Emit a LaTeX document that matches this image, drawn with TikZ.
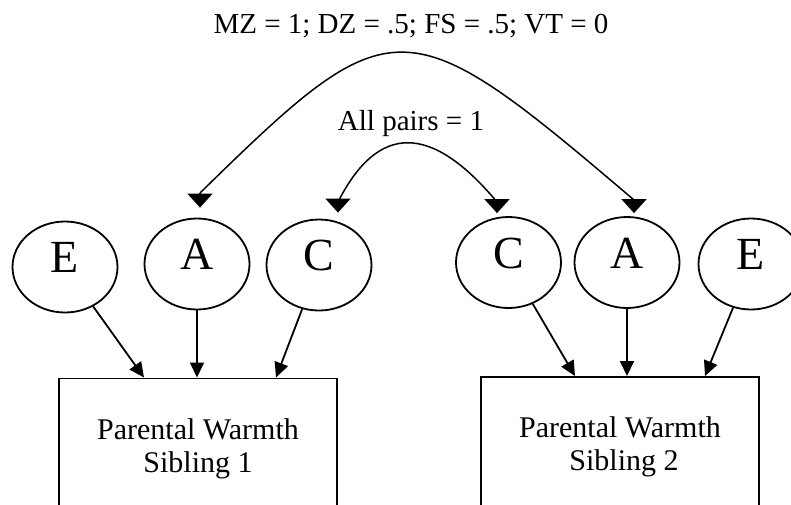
\documentclass[tikz,border=0pt]{standalone}
\usepackage{fontspec}
\setmainfont{Liberation Serif}
\usetikzlibrary{arrows.meta,shapes.geometric}
\begin{document}
\begin{tikzpicture}[x=1pt,y=-1pt,
  lat/.style={ellipse,draw,line width=1.8pt,minimum width=105pt,minimum height=91pt,inner sep=0pt,
    font=\fontsize{46}{52}\selectfont,text depth=19pt},
  obs/.style={rectangle,draw,line width=1.8pt,minimum width=278pt,minimum height=140pt,anchor=north,
    align=center,font=\fontsize{30}{33}\selectfont},
  lbl/.style={anchor=base,inner sep=0pt,font=\fontsize{29}{33}\selectfont},
  causal/.style={line width=1.8pt,-{Triangle[width=14pt,length=15pt]}},
  covline/.style={line width=1.5pt},
  covhead/.style={line width=1.5pt,-{Triangle[width=25pt,length=14pt]}}
]
\useasboundingbox (0,0) rectangle (791,504);
\clip (0,0) rectangle (791,504);

% latent factors
\node[lat] (E1) at (65,267) {E};
\node[lat] (A1) at (197,264) {A};
\node[lat] (C1) at (319,265) {C};
\node[lat] (C2) at (508.5,262.5) {C};
\node[lat] (A2) at (627,262.5) {A};
\node[lat] (E2) at (751,264) {E};

% observed
\node[obs] (P1) at (198,377.5) {Parental Warmth\\Sibling 1};
\node[obs] (P2) at (620,376) {Parental Warmth\\\hspace*{8pt}Sibling 2};

% labels
\node[lbl] (top) at (411,33) {MZ = 1; DZ = .5; FS = .5; VT = 0};
\node[lbl] (mid) at (411,130) {All pairs = 1};

% targets on boxes
\coordinate (t1e) at (144,377.5);
\coordinate (t1a) at (197,377.5);
\coordinate (t1c) at (276,377.5);
\coordinate (t2c) at (575,376);
\coordinate (t2a) at (627,376);
\coordinate (t2e) at (705,376);

\draw[causal] (E1) -- (t1e);
\draw[causal] (A1) -- (t1a);
\draw[causal] (C1) -- (t1c);
\draw[causal] (C2) -- (t2c);
\draw[causal] (A2) -- (t2a);
\draw[causal] (E2) -- (t2e);

% covariance arcs
\coordinate (hBL) at (200,193);
\coordinate (hBR) at (634,200);
\coordinate (hSL) at (338,202);
\coordinate (hSR) at (497,202);

\draw[covline] (hBL) .. controls (393,4) and (404,4) .. (hBR);
\draw[covline] (hSL) .. controls (378,123) and (431,123) .. (hSR);

\draw[covhead,shorten >=10pt] (hBL) -- (hBL |- A1.north);
\draw[covhead,shorten >=3pt] (hBR) -- (hBR |- A2.north);
\draw[covhead,shorten >=6pt] (hSL) -- (hSL |- C1.north);
\draw[covhead,shorten >=3pt] (hSR) -- (hSR |- C2.north);
\end{tikzpicture}
\end{document}
